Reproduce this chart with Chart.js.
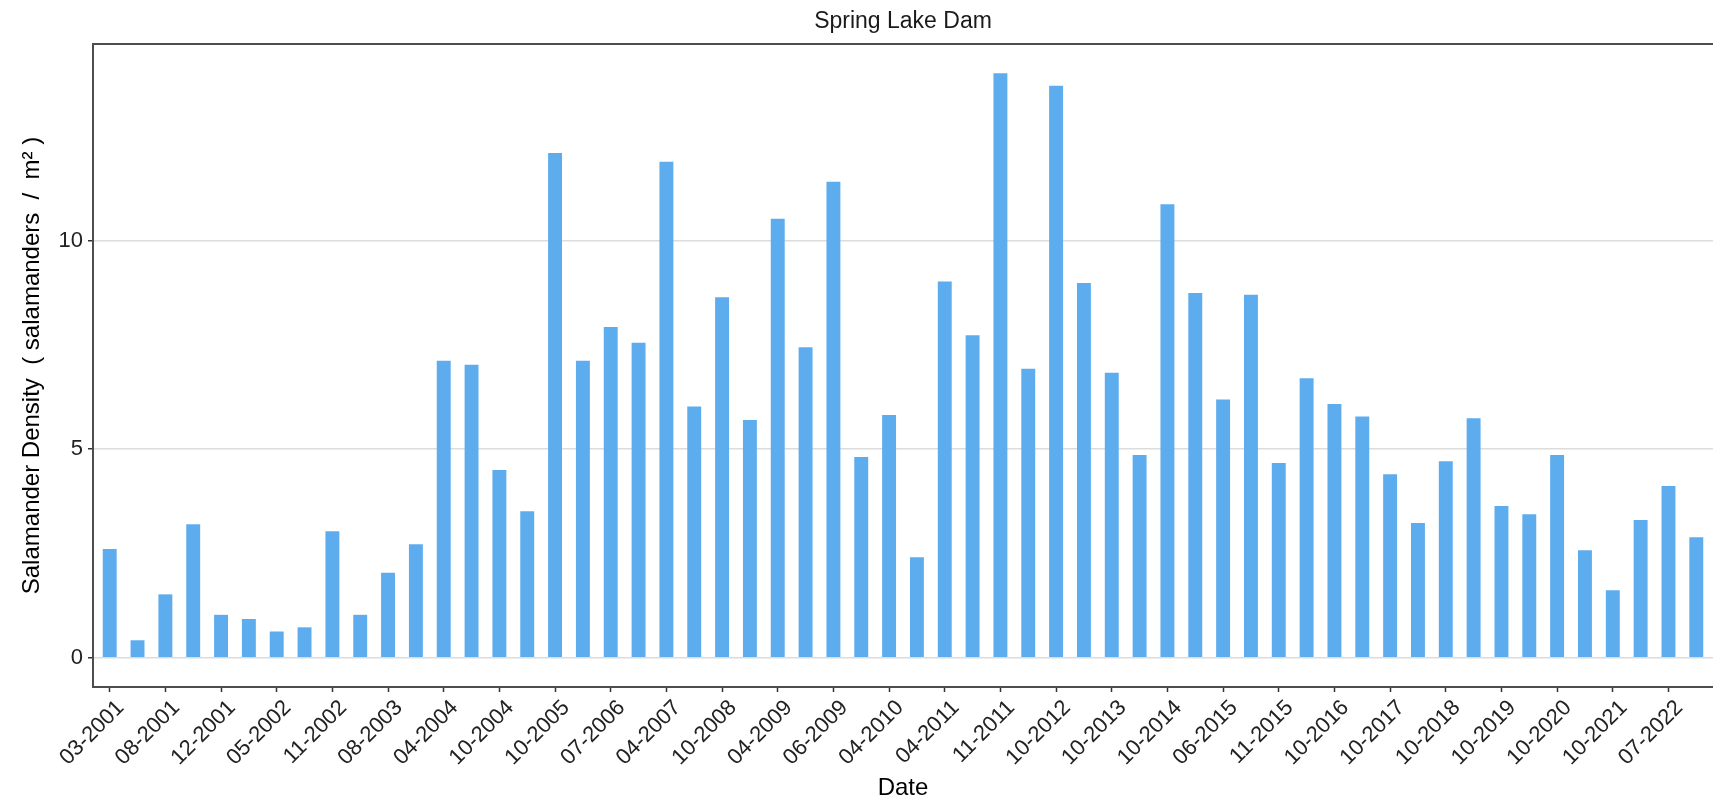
<!DOCTYPE html>
<html>
<head>
<meta charset="utf-8">
<title>Spring Lake Dam</title>
<script src="https://cdn.jsdelivr.net/npm/chart.js@4.4.1/dist/chart.umd.min.js"></script>
<style>
  html, body { margin: 0; padding: 0; background: #fff; }
  canvas { display: block; }
</style>
</head>
<body>
<canvas id="chart" width="1713" height="806"></canvas>
<script>
// survey dates printed under the axis (every second survey is labelled)
const tickLabels = [
  '03-2001', '08-2001', '12-2001', '05-2002', '11-2002', '08-2003', '04-2004', '10-2004',
  '10-2005', '07-2006', '04-2007', '10-2008', '04-2009', '06-2009', '04-2010', '04-2011',
  '11-2011', '10-2012', '10-2013', '10-2014', '06-2015', '11-2015', '10-2016', '10-2017',
  '10-2018', '10-2019', '10-2020', '10-2021', '07-2022'
]

// salamanders / m^2, one value per survey, in date order
const density = [
  2.61, 0.42, 1.52, 3.20, 1.03, 0.93, 0.63, 0.73, 3.03, 1.03,
  2.04, 2.72, 7.12, 7.02, 4.50, 3.51, 12.10, 7.12, 7.93, 7.55,
  11.89, 6.02, 8.64, 5.70, 10.52, 7.44, 11.41, 4.81, 5.82, 2.41,
  9.02, 7.73, 14.01, 6.93, 13.71, 8.98, 6.83, 4.86, 10.87, 8.74,
  6.19, 8.70, 4.67, 6.70, 6.08, 5.78, 4.40, 3.23, 4.71, 5.74,
  3.64, 3.44, 4.86, 2.58, 1.62, 3.30, 4.12, 2.89
]

const yTicks = [0, 5, 10]

const FONT = 'Liberation Sans, Arial, sans-serif'

// ggplot style box around the panel (right side runs off the canvas)
const panelBorder = {
  id: 'panelBorder',
  afterDatasetsDraw(chart) {
    const { ctx, chartArea: a } = chart
    ctx.save()
    ctx.strokeStyle = '#4d4d4d'
    ctx.lineWidth = 2
    ctx.strokeRect(a.left, a.top, a.right - a.left + 4, a.bottom - a.top)
    ctx.restore()
  }
}

const ctx = document.getElementById('chart').getContext('2d')

new Chart(ctx, {
  type: 'bar',
  data: {
    datasets: [{
      label: 'Salamander Density',
      data: density.map((v, i) => ({ x: i, y: v })),
      backgroundColor: '#5CACEE',
      borderWidth: 0,
      barPercentage: 0.5,
      categoryPercentage: 1
    }]
  },
  options: {
    responsive: false,
    animation: false,
    layout: { padding: 0 },
    plugins: {
      legend: { display: false },
      tooltip: { enabled: false },
      title: {
        display: true,
        text: 'Spring Lake Dam',
        fullSize: false,
        color: '#1a1a1a',
        font: { family: FONT, size: 23, weight: 'normal' },
        padding: { top: 8, bottom: 8.4 }
      }
    },
    scales: {
      x: {
        type: 'linear',
        offset: false,
        min: -0.6,
        max: density.length - 0.4,
        afterBuildTicks: scale => {
          scale.ticks = tickLabels.map((_, k) => ({ value: 2 * k }))
        },
        afterFit: scale => { scale.height = 119 },
        border: { display: false },
        grid: { offset: false, drawOnChartArea: false, tickLength: 5, tickColor: '#333', tickWidth: 1.5 },
        ticks: {
          autoSkip: false,
          minRotation: 45,
          maxRotation: 45,
          padding: 3,
          labelOffset: 11,
          color: '#222',
          font: { family: FONT, size: 22 },
          callback: v => tickLabels[v / 2]
        },
        title: {
          display: true,
          text: 'Date',
          color: '#000',
          font: { family: FONT, size: 24 },
          padding: { top: 3, bottom: 3 }
        }
      },
      y: {
        min: -0.7,
        max: 14.71,
        afterBuildTicks: scale => {
          scale.ticks = yTicks.map(v => ({ value: v }))
        },
        afterFit: scale => { scale.width = 93 },
        border: { display: false },
        grid: { color: '#dcdcdc', lineWidth: 1.5, tickLength: 5, tickColor: '#333', tickWidth: 1.5 },
        ticks: {
          padding: 5,
          color: '#222',
          font: { family: FONT, size: 22 }
        },
        title: {
          display: true,
          text: 'Salamander Density  ( salamanders  /  m² )',
          color: '#000',
          font: { family: FONT, size: 24 },
          padding: { top: 18, bottom: 18 }
        }
      }
    }
  },
  plugins: [panelBorder]
})
</script>
</body>
</html>
